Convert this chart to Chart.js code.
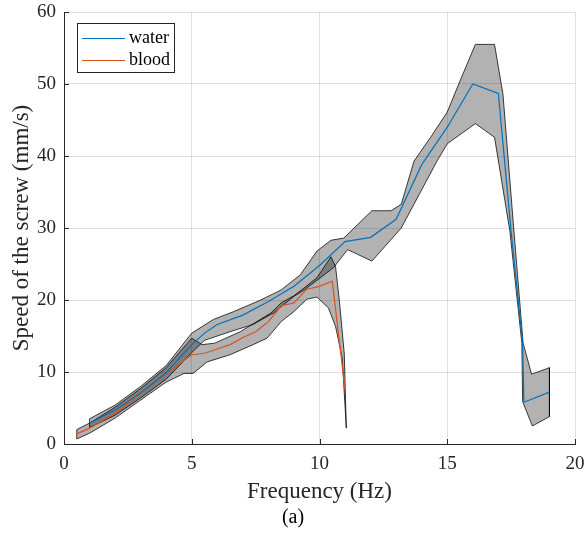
<!DOCTYPE html>
<html>
<head>
<meta charset="utf-8">
<script src="https://cdn.jsdelivr.net/npm/chart.js@4.4.1/dist/chart.umd.min.js"></script>
<style>
  html, body { margin: 0; padding: 0; background: #fff; }
  #wrap { position: relative; width: 586px; height: 542px; }
</style>
</head>
<body>
<div id="wrap"><canvas id="speedChart" width="586" height="542"></canvas></div>
<script>
// mean speed, water
const waterFreq  = [1, 2, 3, 4, 5, 5.5, 6, 7, 8, 9, 10, 11, 12, 13, 14, 15, 16, 17, 17.5, 17.95, 18, 19];
const waterSpeed = [2.9, 4.7, 7.1, 9.9, 13.8, 15.4, 16.6, 17.9, 19.8, 21.9, 24.8, 28.1, 28.7, 31.2, 38.8, 44.0, 50.0, 48.7, 29.5, 14.0, 5.8, 7.2];

// spread around water
const waterUpperFreq  = [1, 2, 3, 4, 5, 5.85, 6.65, 7.7, 8.5, 9.25, 9.9, 10.45, 10.95, 12.05, 12.8, 13.2, 13.7, 14.35, 15, 15.45, 16.1, 16.85, 17.18, 17.6, 17.97, 18.3, 19];
const waterUpperSpeed = [3.5, 5.4, 8.0, 10.9, 15.4, 17.3, 18.4, 20.0, 21.4, 23.5, 26.8, 28.3, 28.6, 32.4, 32.4, 33.3, 39.3, 42.6, 46.1, 50.0, 55.5, 55.5, 48.6, 30.0, 14.0, 9.7, 10.6];
const waterLowerFreq  = [1, 2, 3, 4, 5, 5.5, 6.5, 7.4, 8.2, 9, 9.4, 10, 10.55, 11.1, 12.05, 13.2, 14.6, 15, 16.1, 16.85, 17.15, 17.45, 17.92, 17.95, 18.33, 19];
const waterLowerSpeed = [2.3, 4.0, 6.4, 9.0, 12.7, 14.4, 15.6, 16.6, 18.2, 20.5, 21.4, 23.0, 24.5, 27.0, 25.4, 30.0, 39.3, 41.7, 44.5, 42.6, 36.1, 29.6, 14.0, 5.9, 2.5, 3.8];

// mean speed, blood
const bloodFreq  = [0.5, 1, 2, 3, 4, 5, 5.5, 6, 6.5, 7, 7.5, 8, 8.5, 9, 9.5, 10, 10.5, 11];
const bloodSpeed = [1.4, 2.2, 4.3, 7.0, 9.8, 12.4, 12.6, 13.2, 13.8, 14.8, 15.6, 17.0, 19.2, 19.6, 21.5, 21.9, 22.6, 7.5];

// spread around blood
const bloodUpperFreq  = [0.5, 1, 2, 3, 4, 5, 5.4, 5.9, 6.9, 8.1, 8.5, 9, 9.3, 9.9, 10.45, 10.63, 10.78, 10.97, 11.05];
const bloodUpperSpeed = [2.0, 2.9, 5.1, 7.7, 10.6, 14.7, 13.8, 14.0, 15.6, 18.2, 19.6, 20.6, 21.4, 23.1, 26.0, 24.6, 19.8, 12.5, 2.2];
const bloodLowerFreq  = [0.5, 1, 2, 3, 4, 4.7, 5.05, 5.6, 6.5, 7.4, 7.95, 8.5, 9, 9.5, 9.9, 10.35, 10.63, 10.89, 11.05];
const bloodLowerSpeed = [0.7, 1.5, 3.6, 6.1, 8.6, 9.8, 9.8, 11.4, 12.4, 13.8, 14.7, 17.0, 18.4, 20.1, 20.4, 18.9, 16.3, 11.9, 2.2];

const xTicks = [0, 5, 10, 15, 20];
const yTicks = [0, 10, 20, 30, 40, 50, 60];

const serif = '"Liberation Serif", "Times New Roman", serif';
const axisColor = '#262626';
const gridColor = 'rgba(38, 38, 38, 0.14)';
const waterColor = '#0072BD';
const bloodColor = '#D95319';

function toPoints(xs, ys) {
    return xs.map((x, i) => ({ x: x, y: ys[i] }));
}

// closed outline: upper edge forward, lower edge back, then back to start
function bandOutline(ux, uy, lx, ly) {
    const upper = toPoints(ux, uy);
    const lower = toPoints(lx, ly).reverse();
    return upper.concat(lower, [upper[0]]);
}

// MATLAB style ticks pointing into the plot
const innerTicks = {
    id: 'innerTicks',
    afterDatasetsDraw(chart) {
        const ctx = chart.ctx;
        const xs = chart.scales.x, ys = chart.scales.y;
        const a = chart.chartArea;
        ctx.save();
        ctx.strokeStyle = axisColor;
        ctx.lineWidth = 1;
        ctx.beginPath();
        xs.ticks.forEach(t => {
            const px = Math.round(xs.getPixelForValue(t.value)) + 0.5;
            ctx.moveTo(px, a.bottom);
            ctx.lineTo(px, a.bottom - 5);
        });
        ys.ticks.forEach(t => {
            const py = Math.round(ys.getPixelForValue(t.value)) + 0.5;
            ctx.moveTo(a.left, py);
            ctx.lineTo(a.left + 5, py);
        });
        ctx.stroke();
        ctx.restore();
    }
};

// boxed legend in the top left corner, only the two mean lines
const legendBox = {
    id: 'legendBox',
    afterDraw(chart) {
        const ctx = chart.ctx, a = chart.chartArea;
        const x = Math.round(a.left) + 13, y = Math.round(a.top) + 11, w = 97, h = 49;
        const entries = [
            { text: chart.data.datasets[0].label, color: waterColor },
            { text: chart.data.datasets[1].label, color: bloodColor }
        ];
        ctx.save();
        ctx.fillStyle = '#fff';
        ctx.fillRect(x, y, w, h);
        ctx.strokeStyle = axisColor;
        ctx.lineWidth = 1;
        ctx.strokeRect(x + 0.5, y + 0.5, w, h);
        ctx.font = '18px ' + serif;
        ctx.textBaseline = 'middle';
        entries.forEach((e, i) => {
            const cy = y + 15.5 + i * 22;
            ctx.strokeStyle = e.color;
            ctx.lineWidth = 1.2;
            ctx.beginPath();
            ctx.moveTo(x + 5, cy);
            ctx.lineTo(x + 48, cy);
            ctx.stroke();
            ctx.fillStyle = '#000';
            ctx.fillText(e.text, x + 52, cy);
        });
        ctx.restore();
    }
};

new Chart(document.getElementById('speedChart').getContext('2d'), {
    type: 'line',
    data: {
        datasets: [
            {
                label: 'water',
                data: toPoints(waterFreq, waterSpeed),
                borderColor: waterColor,
                borderWidth: 1.2,
                fill: false
            },
            {
                label: 'blood',
                data: toPoints(bloodFreq, bloodSpeed),
                borderColor: bloodColor,
                borderWidth: 1.2,
                fill: false
            },
            {
                label: 'water spread',
                data: bandOutline(waterUpperFreq, waterUpperSpeed, waterLowerFreq, waterLowerSpeed),
                borderColor: 'rgba(0, 0, 0, 0.75)',
                borderWidth: 1,
                backgroundColor: 'rgba(0, 0, 0, 0.3)',
                fill: 'shape'
            },
            {
                label: 'blood spread',
                data: bandOutline(bloodUpperFreq, bloodUpperSpeed, bloodLowerFreq, bloodLowerSpeed),
                borderColor: 'rgba(0, 0, 0, 0.75)',
                borderWidth: 1,
                backgroundColor: 'rgba(0, 0, 0, 0.3)',
                fill: 'shape'
            }
        ]
    },
    options: {
        responsive: false,
        animation: false,
        layout: { padding: 0 },
        elements: { point: { radius: 0 }, line: { tension: 0 } },
        scales: {
            x: {
                type: 'linear',
                min: 0,
                max: 20,
                afterBuildTicks(scale) { scale.ticks = xTicks.map(v => ({ value: v })); },
                afterFit(scale) {
                    scale.height = 62;
                    scale.paddingLeft = 0;
                    scale.paddingRight = 11;
                },
                ticks: { color: axisColor, padding: 9, maxRotation: 0, font: { family: serif, size: 19 } },
                grid: { color: gridColor, drawTicks: false },
                border: { display: true, color: axisColor, width: 1 },
                title: {
                    display: true,
                    text: 'Frequency (Hz)',
                    color: axisColor,
                    padding: { top: 0, bottom: 0 },
                    font: { family: serif, size: 23 }
                }
            },
            y: {
                type: 'linear',
                min: 0,
                max: 60,
                afterBuildTicks(scale) { scale.ticks = yTicks.map(v => ({ value: v })); },
                afterFit(scale) {
                    scale.width = 64;
                    scale.paddingTop = 12;
                    scale.paddingBottom = 0;
                },
                ticks: { color: axisColor, padding: 8, font: { family: serif, size: 19 } },
                grid: { color: gridColor, drawTicks: false },
                border: { display: true, color: axisColor, width: 1 },
                title: {
                    display: true,
                    text: 'Speed of the screw (mm/s)',
                    color: axisColor,
                    padding: { top: 8, bottom: 0 },
                    font: { family: serif, size: 23 }
                }
            }
        },
        plugins: {
            legend: { display: false },
            tooltip: { enabled: false },
            title: {
                display: true,
                text: '(a)',
                position: 'bottom',
                color: '#000',
                padding: { top: 0, bottom: 12 },
                font: { family: serif, size: 20, weight: 'normal' }
            }
        }
    },
    plugins: [innerTicks, legendBox]
});
</script>
</body>
</html>
